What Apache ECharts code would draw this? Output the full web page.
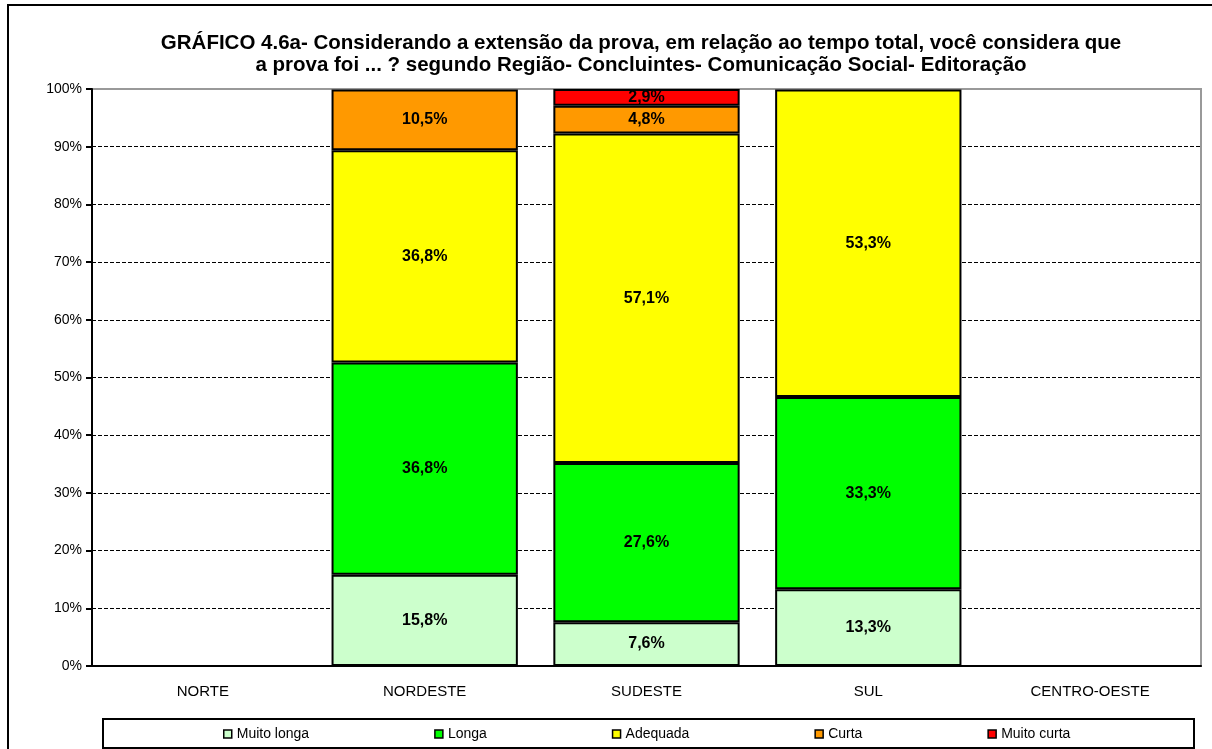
<!DOCTYPE html>
<html>
<head>
<meta charset="utf-8">
<script src="https://cdn.jsdelivr.net/npm/echarts@6/dist/echarts.min.js"></script>
<style>
  html, body { margin: 0; padding: 0; background: #fff; }
  #chart { width: 1212px; height: 749px; }
</style>
</head>
<body>
<div id="chart"></div>
<script>
const regions = ['NORTE', 'NORDESTE', 'SUDESTE', 'SUL', 'CENTRO-OESTE']
const muitoLonga = [null, 15.8, 7.6, 13.3, null]
const longa = [null, 36.8, 27.6, 33.3, null]
const adequada = [null, 36.8, 57.1, 53.3, null]
const curta = [null, 10.5, 4.8, null, null]
const muitoCurta = [null, null, 2.9, null, null]
const yTicks = [0, 10, 20, 30, 40, 50, 60, 70, 80, 90, 100]

const font = '"Liberation Sans", Arial, sans-serif'
const chart = echarts.init(document.getElementById('chart'))

function makeSeries(name, data, color) {
  return {
    name,
    type: 'bar',
    stack: 'total',
    barCategoryGap: '16%',
    data,
    itemStyle: { color, borderColor: '#000', borderWidth: 2 },
    label: {
      show: true,
      position: 'inside',
      color: '#000',
      fontFamily: font,
      fontWeight: 'bold',
      fontSize: 16,
      formatter: p => (p.value == null ? '' : p.value.toFixed(1).replace('.', ',') + '%'),
    },
  }
}

chart.setOption({
  animation: false,
  textStyle: { fontFamily: font },
  title: {
    text: 'GRÁFICO 4.6a- Considerando a extensão da prova, em relação ao tempo total, você considera que\na prova foi ... ? segundo Região- Concluintes- Comunicação Social- Editoração',
    left: 636,
    textAlign: 'center',
    top: 27,
    textStyle: { fontFamily: font, fontWeight: 'bold', fontSize: 20.5, lineHeight: 22, color: '#000' },
  },
  grid: {
    left: 92, right: 11, top: 89, bottom: 83,
    show: true, borderColor: '#999', borderWidth: 2,
  },
  legend: {
    left: 223,
    top: 727,
    padding: 0,
    itemGap: 125,
    itemWidth: 8,
    itemHeight: 8,
    icon: 'rect',
    itemStyle: { borderColor: '#000', borderWidth: 1.5 },
    textStyle: { fontFamily: font, fontSize: 14, color: '#000', padding: [0, 0, 0, 0] },
  },
  xAxis: {
    type: 'category',
    data: regions,
    axisLine: { lineStyle: { color: '#000', width: 2 } },
    axisTick: { length: 6, lineStyle: { color: '#000', width: 2 } },
    axisLabel: { color: '#000', fontSize: 15, margin: 18 },
  },
  yAxis: {
    type: 'value',
    min: 0,
    max: 100,
    interval: 10,
    axisLine: { show: true, lineStyle: { color: '#000', width: 2 } },
    axisTick: { show: true, length: 6, lineStyle: { color: '#000', width: 2 } },
    axisLabel: { color: '#000', fontSize: 14, margin: 10, formatter: '{value}%' },
    splitLine: {
      lineStyle: {
        color: yTicks.map(v => (v === 100 ? '#999' : '#000')),
        type: [4, 2],
        width: 1,
      },
    },
  },
  graphic: [
    { type: 'rect', shape: { x: 8, y: 5, width: 1300, height: 800 }, style: { fill: 'none', stroke: '#000', lineWidth: 2 }, silent: true },
    { type: 'rect', shape: { x: 103, y: 719, width: 1091, height: 29 }, style: { fill: 'none', stroke: '#000', lineWidth: 2 }, silent: true, z: -1 },
  ],
  series: [
    makeSeries('Muito longa', muitoLonga, '#ccffcc'),
    makeSeries('Longa', longa, '#00ff00'),
    makeSeries('Adequada', adequada, '#ffff00'),
    makeSeries('Curta', curta, '#ff9900'),
    makeSeries('Muito curta', muitoCurta, '#ff0000'),
  ],
})
</script>
</body>
</html>
